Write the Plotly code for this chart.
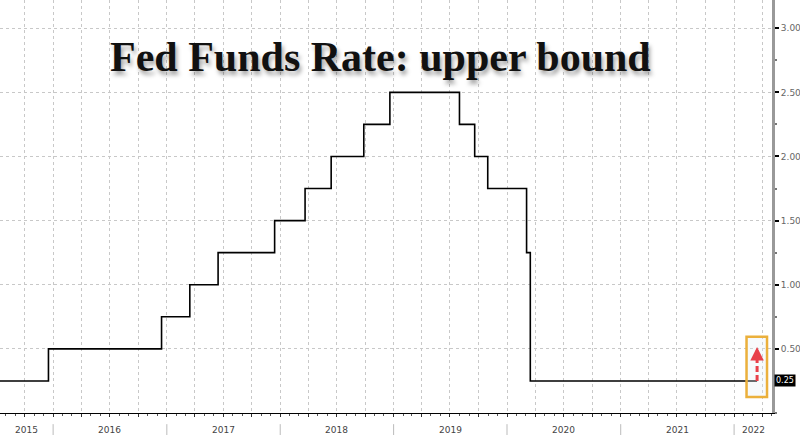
import plotly.graph_objects as go
import pandas as pd

# ---- data ----
step_dates = ["2015-07-14", "2015-12-17", "2016-12-15", "2017-03-16", "2017-06-15",
              "2017-12-14", "2018-03-22", "2018-06-14", "2018-09-27", "2018-12-20",
              "2019-08-01", "2019-09-19", "2019-10-31", "2020-03-04", "2020-03-16",
              "2022-03-16"]
upper_bound = [0.25, 0.50, 0.75, 1.00, 1.25, 1.50, 1.75, 2.00, 2.25, 2.50,
               2.25, 2.00, 1.75, 1.25, 0.25, 0.25]
year_labels = ["2015", "2016", "2017", "2018", "2019", "2020", "2021", "2022"]
y_tick_vals = [0.5, 1.0, 1.5, 2.0, 2.5, 3.0]
last_value = 0.25
title_text = "Fed Funds Rate: upper bound"

x_range = ["2015-07-14", "2022-05-03"]
y_range = [0, 3.22]

fig = go.Figure()
fig.add_trace(go.Scatter(
    x=step_dates, y=upper_bound, mode="lines",
    line=dict(color="black", width=1.6, shape="hv"),
    hoverinfo="skip", showlegend=False))

# year labels centred in the visible part of each year, with dividers
rs, re_ = pd.Timestamp(x_range[0]), pd.Timestamp(x_range[1])
for lab in year_labels:
    y0 = max(pd.Timestamp(f"{lab}-01-01"), rs)
    y1 = min(pd.Timestamp(f"{int(lab)+1}-01-01"), re_)
    mid = y0 + (y1 - y0) / 2
    fig.add_annotation(x=mid, y=-0.041, xref="x", yref="paper", text=lab,
                       showarrow=False, yanchor="middle",
                       font=dict(family="DejaVu Sans", size=9, color="#444"))
    start = pd.Timestamp(f"{lab}-01-01")
    if start > rs:
        fig.add_shape(type="line", xref="x", yref="paper", x0=start, x1=start,
                      y0=-0.027, y1=-0.06, line=dict(color="#bbb", width=1))

# title with shadow
fig.add_annotation(x=0.4935, y=0.862, xref="paper", yref="paper",
                   text=f"<b>{title_text}</b>", showarrow=False,
                   xanchor="center", yanchor="middle",
                   font=dict(family="Liberation Serif", size=42, color="#111",
                             shadow="2px 4px 4px rgba(0,0,0,0.35)"))

# last value tag
fig.add_annotation(x=1, y=last_value, xref="paper", yref="y", text=f"{last_value:.2f}",
                   showarrow=False, xanchor="left", xshift=2,
                   bgcolor="black", borderpad=1,
                   font=dict(family="DejaVu Sans", size=8, color="white"))

# highlight box and dashed arrow
fig.add_shape(type="rect", xref="x", yref="y", x0="2022-02-10", x1="2022-04-17",
              y0=0.125, y1=0.595, line=dict(color="#EBB03C", width=2.5),
              fillcolor="rgba(225,235,245,0.25)")
fig.add_shape(type="line", xref="x", yref="y", x0="2022-03-16", x1="2022-03-16",
              y0=0.25, y1=0.44, line=dict(color="#E8404A", width=3, dash="6px,3px"))
fig.add_annotation(x="2022-03-16", y=0.515, ax="2022-03-16", ay=0.44,
                   xref="x", yref="y", axref="x", ayref="y", text="",
                   showarrow=True, arrowhead=2, arrowsize=0.9, arrowwidth=3,
                   arrowcolor="#E8404A", standoff=0)

fig.update_layout(
    width=800, height=435,
    margin=dict(l=0, r=28, t=0, b=22),
    paper_bgcolor="white", plot_bgcolor="white",
    showlegend=False,
    xaxis=dict(type="date", range=x_range, showticklabels=False,
               dtick="M3", tick0="2015-01-01",
               showgrid=True, gridcolor="#c8c8c8", griddash="dot", gridwidth=1,
               ticks="outside", ticklen=3, tickcolor="#333",
               showline=True, linecolor="black", linewidth=1,
               minor=dict(dtick="M1", ticks="outside", ticklen=2, tickcolor="#555"),
               zeroline=False, fixedrange=True),
    yaxis=dict(side="right", range=y_range, tickvals=y_tick_vals,
               tickformat=".2f", showgrid=True, gridcolor="#c8c8c8",
               griddash="dot", gridwidth=1,
               ticks="outside", ticklen=4, tickwidth=2, tickcolor="black",
               showline=True, linecolor="#999", linewidth=3,
               tickfont=dict(family="DejaVu Sans", size=9, color="#666"),
               minor=dict(dtick=0.25, tick0=0, ticks="outside", ticklen=2,
                          tickcolor="#777"),
               zeroline=False, fixedrange=True, automargin=False),
)

fig.write_html("out.html", config={"displayModeBar": False},
               post_script="document.body.style.margin='0';"
                           "document.body.style.overflow='hidden';")
